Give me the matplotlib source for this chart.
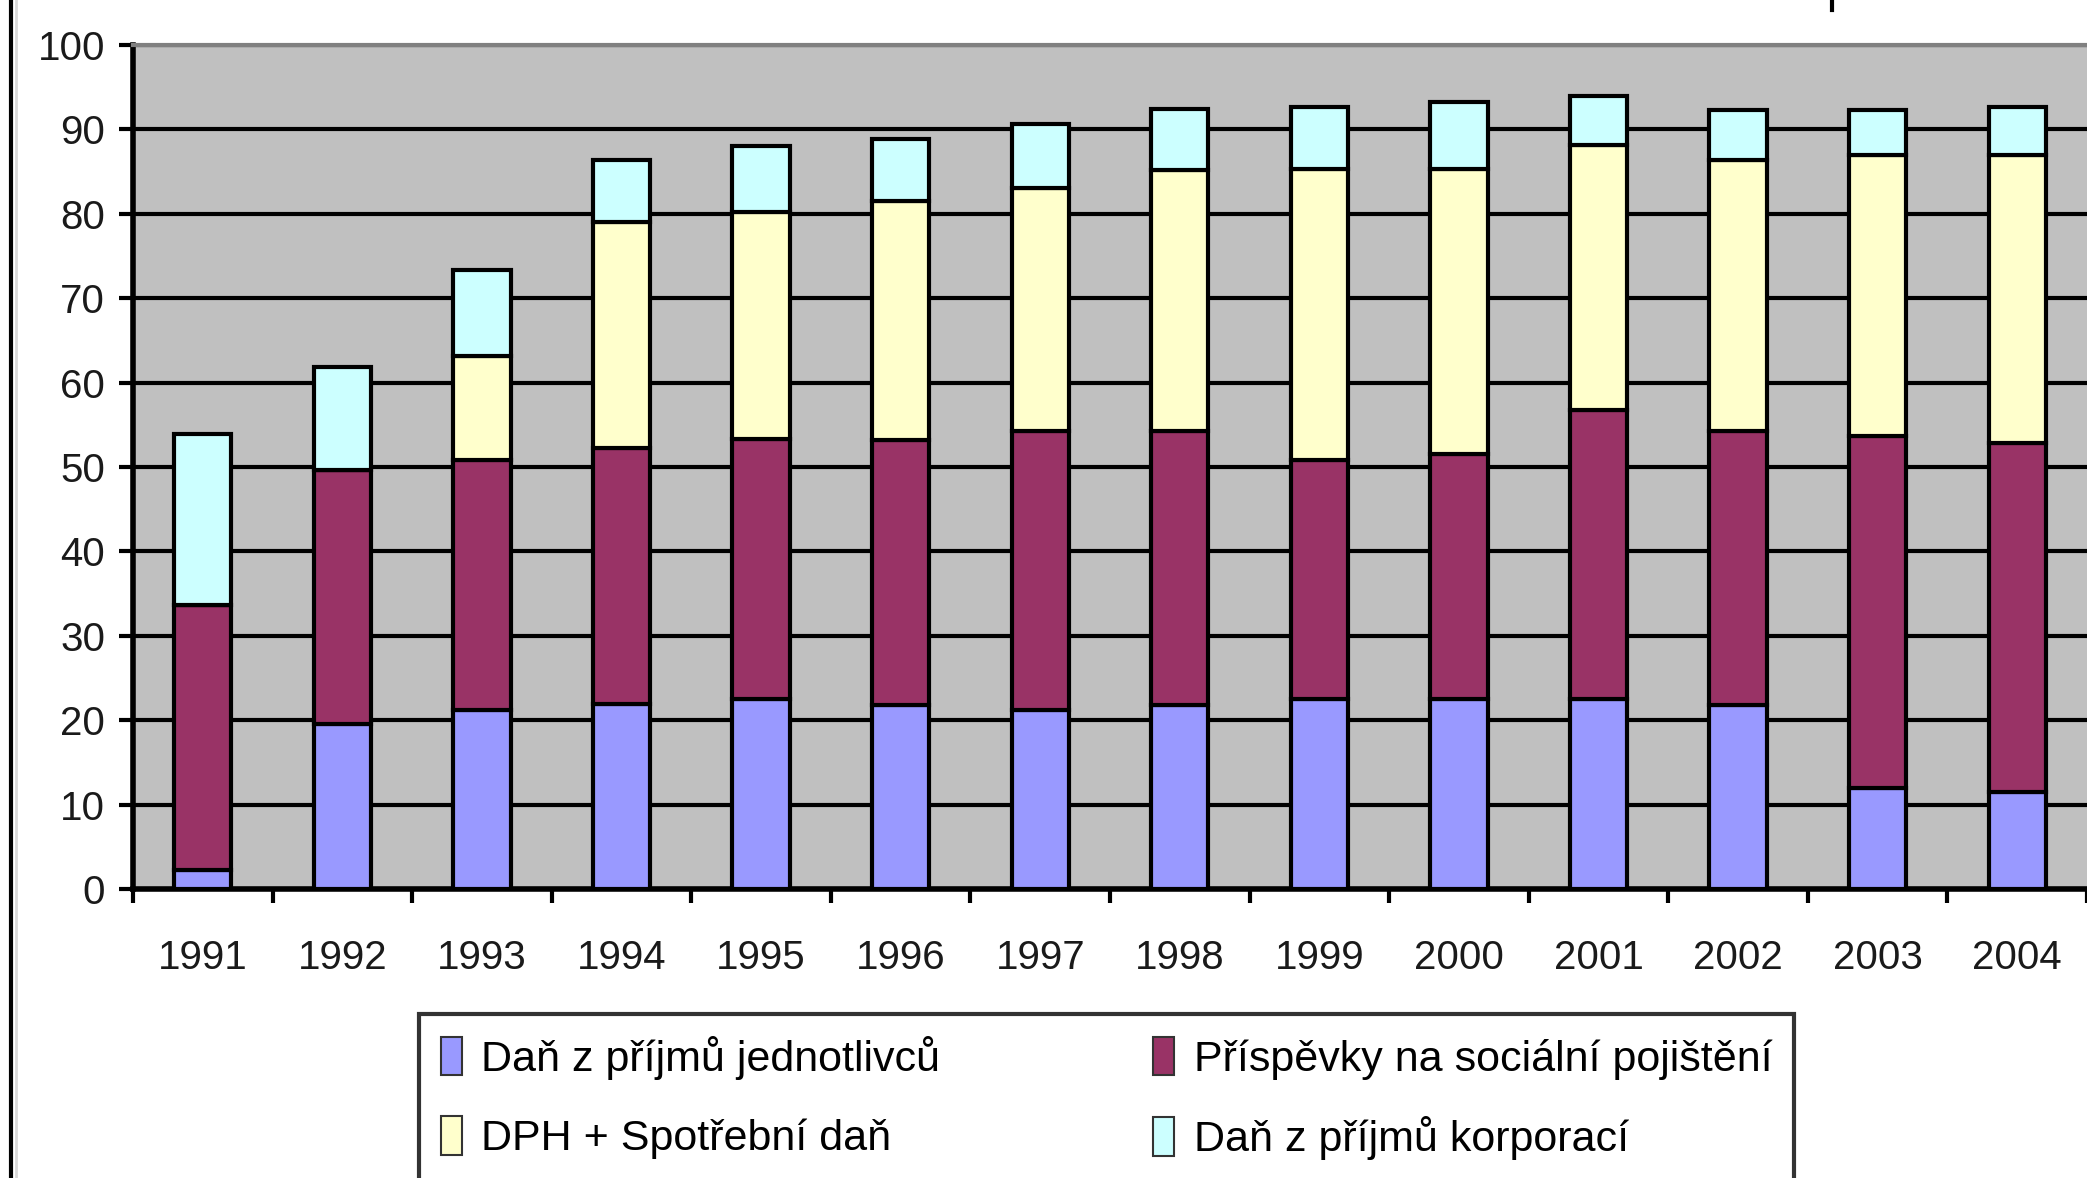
import numpy as np
import matplotlib
matplotlib.use('Agg')
import matplotlib.pyplot as plt
from matplotlib.lines import Line2D
from matplotlib.patches import Patch

plt.rcParams['font.family'] = ['Liberation Sans', 'DejaVu Sans']

# data (share of tax revenue)
years = ['1991', '1992', '1993', '1994', '1995', '1996', '1997',
         '1998', '1999', '2000', '2001', '2002', '2003', '2004']
dan_jednotlivcu = [2.2, 19.5, 21.2, 21.9, 22.5, 21.8, 21.2, 21.8, 22.5, 22.5, 22.5, 21.8, 12.0, 11.5]
socialni = [31.5, 30.1, 29.6, 30.3, 30.8, 31.4, 33.1, 32.5, 28.3, 29.0, 34.3, 32.5, 41.7, 41.3]
dph_spotrebni = [0, 0, 12.4, 26.8, 26.9, 28.3, 28.7, 30.9, 34.5, 33.8, 31.4, 32.1, 33.3, 34.2]
dan_korporaci = [20.2, 12.2, 10.1, 7.4, 7.8, 7.4, 7.6, 7.2, 7.4, 8.0, 5.7, 5.9, 5.3, 5.7]

labels = ['Daň z příjmů jednotlivců', 'Příspěvky na sociální pojištění',
          'DPH + Spotřební daň', 'Daň z příjmů korporací']
colors = ['#9999FF', '#993366', '#FFFFCC', '#CCFFFF']

fig = plt.figure(figsize=(20.87, 11.78), dpi=100)
ax = fig.add_axes([133/2087, 1-889/1178, 1-133/2087, (889-45)/1178])
ax.set_facecolor('#C0C0C0')

x = np.arange(len(years))
series = [dan_jednotlivcu, socialni, dph_spotrebni, dan_korporaci]
bottom = np.zeros(len(years))
for vals, c in zip(series, colors):
    ax.bar(x, vals, 0.41, bottom=bottom, color=c, edgecolor='black', linewidth=3, zorder=3)
    bottom = bottom + np.array(vals)

ax.set_ylim(0, 100)
ax.set_xlim(-0.5, 13.47)
ax.set_yticks(range(0, 101, 10))
ax.yaxis.grid(True, color='black', linewidth=3, zorder=1)
ax.set_axisbelow(True)

ax.set_xticks(x)
ax.set_xticklabels(years)
ax.set_xticks(np.arange(-0.5, 14, 1), minor=True)
ax.tick_params(axis='x', which='major', length=0, pad=36, labelsize=29, labelcolor='#1a1a1a')
ax.tick_params(axis='x', which='minor', length=10, width=3, direction='out')
ax.tick_params(axis='y', length=10, width=3, pad=10, labelsize=29, labelcolor='#1a1a1a')

ax.spines['top'].set_color('#808080')
ax.spines['top'].set_linewidth(3)
ax.spines['right'].set_visible(False)
ax.spines['left'].set_linewidth(4)
ax.spines['bottom'].set_linewidth(4)

# border of the chart on the left
fig.add_artist(Line2D([11/2087, 11/2087], [0, 1], color='black', linewidth=3, transform=fig.transFigure))
fig.add_artist(Line2D([16/2087, 16/2087], [0, 1], color='#d8d8d8', linewidth=2, transform=fig.transFigure))
fig.add_artist(Line2D([1832/2087, 1832/2087], [1, 1-10/1178], color='black', linewidth=3, transform=fig.transFigure))

handles = [Patch(facecolor=colors[i], edgecolor='#333333', linewidth=1.5) for i in range(4)]
order = [0, 2, 1, 3]
leg = fig.legend([handles[i] for i in order], [labels[i] for i in order],
                 loc='upper left', bbox_to_anchor=(419/2087, 1-1014/1178-0.01, 1375/2087, 0.01),
                 mode='expand', ncol=2, fontsize=31, frameon=True, fancybox=False,
                 handlelength=0.5, handleheight=1.0, handletextpad=0.45,
                 labelspacing=0.85, borderpad=0.5, borderaxespad=0)
leg.get_frame().set_edgecolor('black')
leg.get_frame().set_linewidth(3)

fig.savefig('out.png', dpi=100)
